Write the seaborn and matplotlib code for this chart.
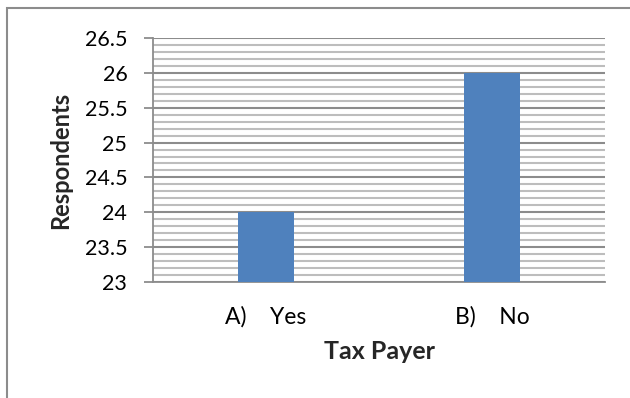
import matplotlib
matplotlib.use("Agg")
import matplotlib.pyplot as plt
import matplotlib.patches as mpatches
from matplotlib.ticker import MultipleLocator
import seaborn as sns
import pandas as pd

categories = ["A)    Yes", "B)    No"]
respondents = [24, 26]
y_ticks = [23, 23.5, 24, 24.5, 25, 25.5, 26, 26.5]

sns.set_theme(style="white")
plt.rcParams["font.family"] = ["Lato", "DejaVu Sans"]

df = pd.DataFrame({"Tax Payer": categories, "Respondents": respondents})

fig = plt.figure(figsize=(6.3, 3.98), dpi=100)
ax = fig.add_axes([153 / 630, 1 - 282 / 398, (605 - 153) / 630, (282 - 38) / 398])

sns.barplot(data=df, x="Tax Payer", y="Respondents", color="#4F81BD",
            width=0.25, saturation=1, linewidth=0, ax=ax, zorder=3)

ax.set_ylim(23, 26.5)
ax.set_yticks(y_ticks)
ax.set_yticklabels([f"{t:g}" for t in y_ticks])
ax.yaxis.set_minor_locator(MultipleLocator(0.1))
ax.grid(which="major", axis="y", color="#8c8c8c", linewidth=1.5, zorder=1)
ax.grid(which="minor", axis="y", color="#bdbdbd", linewidth=1.5, zorder=0)
ax.set_axisbelow(True)

for side in ["top", "right"]:
    ax.spines[side].set_visible(False)
for side in ["left", "bottom"]:
    ax.spines[side].set_color("#8c8c8c")
    ax.spines[side].set_linewidth(1.3)

ax.tick_params(axis="y", which="major", left=True, length=6.5, width=1.3,
               color="#8c8c8c", labelsize=15.5, pad=12, labelcolor="black")
ax.tick_params(axis="y", which="minor", left=False)
ax.tick_params(axis="x", bottom=False, labelsize=16.5, pad=11, labelcolor="black")

ax.set_xlabel("Tax Payer", fontsize=18, fontweight="bold", labelpad=9)
ax.set_ylabel("Respondents", fontsize=17, fontweight="bold", labelpad=9)

# outer chart border
fig.patches.append(mpatches.Rectangle((7 / 630, -0.1), 2, 1 - 8 / 398 + 0.1,
                                      transform=fig.transFigure, fill=False,
                                      edgecolor="#8c8c8c", linewidth=1.5))

fig.savefig("out.png", dpi=100)
